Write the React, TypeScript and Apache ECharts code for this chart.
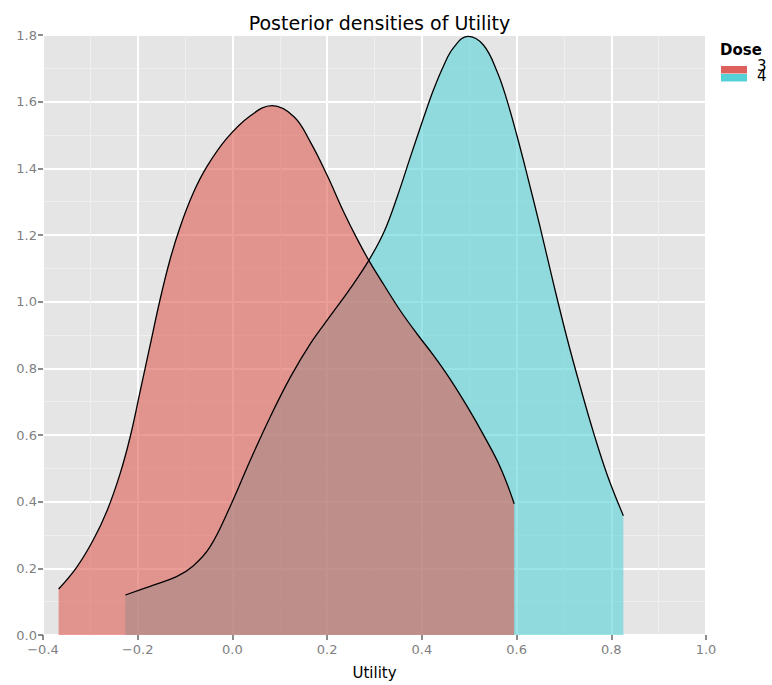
import React, { useEffect, useRef } from "react";
import * as echarts from "echarts";

const TITLE = "Posterior densities of Utility";
const X_NAME = "Utility";
const LEGEND_TITLE = "Dose";
const DOSES = ["3", "4"];

const X_TICKS = [-0.4, -0.2, 0.0, 0.2, 0.4, 0.6, 0.8, 1.0];
const Y_TICKS = [0.0, 0.2, 0.4, 0.6, 0.8, 1.0, 1.2, 1.4, 1.6, 1.8];

// Dose 3 density curve [utility, density]
const dose3: [number, number][] = [
  [-0.367, 0.138], [-0.329, 0.203], [-0.294, 0.285], [-0.265, 0.372],
  [-0.237, 0.485], [-0.216, 0.594], [-0.195, 0.73], [-0.174, 0.868],
  [-0.153, 1.005], [-0.132, 1.125], [-0.111, 1.222], [-0.083, 1.325],
  [-0.054, 1.405], [-0.012, 1.49], [0.038, 1.558], [0.084, 1.588],
  [0.13, 1.555], [0.165, 1.478], [0.2, 1.379], [0.235, 1.269],
  [0.263, 1.189], [0.288, 1.124], [0.32, 1.05], [0.355, 0.972],
  [0.39, 0.903], [0.425, 0.838], [0.46, 0.767], [0.496, 0.685],
  [0.531, 0.598], [0.566, 0.502], [0.595, 0.394],
];

// Dose 4 density curve [utility, density]
const dose4: [number, number][] = [
  [-0.226, 0.12], [-0.174, 0.146], [-0.118, 0.175], [-0.083, 0.207],
  [-0.047, 0.265], [-0.005, 0.385], [0.037, 0.522], [0.08, 0.655],
  [0.123, 0.775], [0.165, 0.875], [0.207, 0.958], [0.249, 1.04],
  [0.288, 1.124], [0.32, 1.209], [0.348, 1.315], [0.376, 1.435],
  [0.404, 1.553], [0.425, 1.637], [0.446, 1.708], [0.467, 1.762],
  [0.497, 1.796], [0.53, 1.77], [0.559, 1.69], [0.58, 1.603],
  [0.601, 1.497], [0.622, 1.382], [0.65, 1.222], [0.679, 1.048],
  [0.707, 0.888], [0.735, 0.742], [0.763, 0.605], [0.792, 0.478],
  [0.8255, 0.358],
];

const FILL3 = "rgba(221,91,83,0.6)";
const FILL4 = "rgba(86,210,217,0.6)";
const KEY3 = "#DC605B";
const KEY4 = "#55D0D6";
const FONT = "DejaVu Sans";

const fmt = (v: number) => v.toFixed(1).replace("-", "\u2212");

export default function App() {
  const ref = useRef<HTMLDivElement>(null);
  useEffect(() => {
    if (!ref.current) return;
    const chart = echarts.init(ref.current, null, { renderer: "svg" });
    const axisCommon = {
      axisLine: { show: false, onZero: false },
      axisTick: { show: true, length: 5, lineStyle: { color: "#666666", width: 1.5 } },
      axisLabel: { color: "#7F7F7F", fontSize: 13, fontFamily: FONT, formatter: fmt },
      splitLine: { show: true, lineStyle: { color: "#FFFFFF", width: 2 } },
      minorTick: { show: false, splitNumber: 2 },
      minorSplitLine: { show: true, lineStyle: { color: "#EFEFEF", width: 1 } },
    };
    const areaSeries = (name: string, data: [number, number][], fill: string, z: number) => ({
      name,
      type: "line",
      data,
      smooth: 0.4,
      showSymbol: false,
      lineStyle: { width: 0, opacity: 0 },
      areaStyle: { color: fill, opacity: 1 },
      z,
    });
    const lineSeries = (name: string, data: [number, number][], z: number) => ({
      name,
      type: "line",
      data,
      smooth: 0.4,
      showSymbol: false,
      lineStyle: { color: "#000000", width: 1.3 },
      z,
    });
    chart.setOption({
      animation: false,
      backgroundColor: "#FFFFFF",
      title: {
        text: TITLE,
        left: 374.5,
        textAlign: "center",
        top: 8,
        textStyle: { fontFamily: FONT, fontSize: 19, fontWeight: "normal", color: "#000000" },
      },
      grid: {
        left: 43,
        right: 66,
        top: 35,
        bottom: 47,
        show: true,
        backgroundColor: "#E5E5E5",
        borderWidth: 0,
      },
      xAxis: {
        type: "value",
        min: X_TICKS[0],
        max: X_TICKS[X_TICKS.length - 1],
        interval: 0.2,
        name: X_NAME,
        nameLocation: "middle",
        nameGap: 30,
        nameTextStyle: { fontFamily: FONT, fontSize: 15, color: "#000000" },
        ...axisCommon,
        axisLabel: { ...axisCommon.axisLabel, margin: 8 },
      },
      yAxis: {
        type: "value",
        min: Y_TICKS[0],
        max: Y_TICKS[Y_TICKS.length - 1],
        interval: 0.2,
        ...axisCommon,
        axisLabel: { ...axisCommon.axisLabel, margin: 6 },
      },
      series: [
        areaSeries(DOSES[1], dose4, FILL4, 2),
        areaSeries(DOSES[0], dose3, FILL3, 3),
        lineSeries(DOSES[1], dose4, 4),
        lineSeries(DOSES[0], dose3, 4),
      ],
      graphic: [
        {
          type: "text",
          left: 720,
          top: 42,
          style: { text: LEGEND_TITLE, font: `bold 15px "${FONT}"`, fill: "#000000" },
        },
        { type: "rect", shape: { x: 721, y: 66, width: 26, height: 7.5 }, style: { fill: KEY3 } },
        { type: "rect", shape: { x: 721, y: 74, width: 26, height: 7.5 }, style: { fill: KEY4 } },
        {
          type: "text",
          left: 757,
          top: 58,
          style: { text: DOSES[0], font: `15px "${FONT}"`, fill: "#000000" },
        },
        {
          type: "text",
          left: 757,
          top: 68,
          style: { text: DOSES[1], font: `15px "${FONT}"`, fill: "#000000" },
        },
      ],
    });
    return () => chart.dispose();
  }, []);
  return (
    <div
      ref={ref}
      style={{ position: "fixed", left: 0, top: 0, width: 772, height: 685 }}
    />
  );
}
